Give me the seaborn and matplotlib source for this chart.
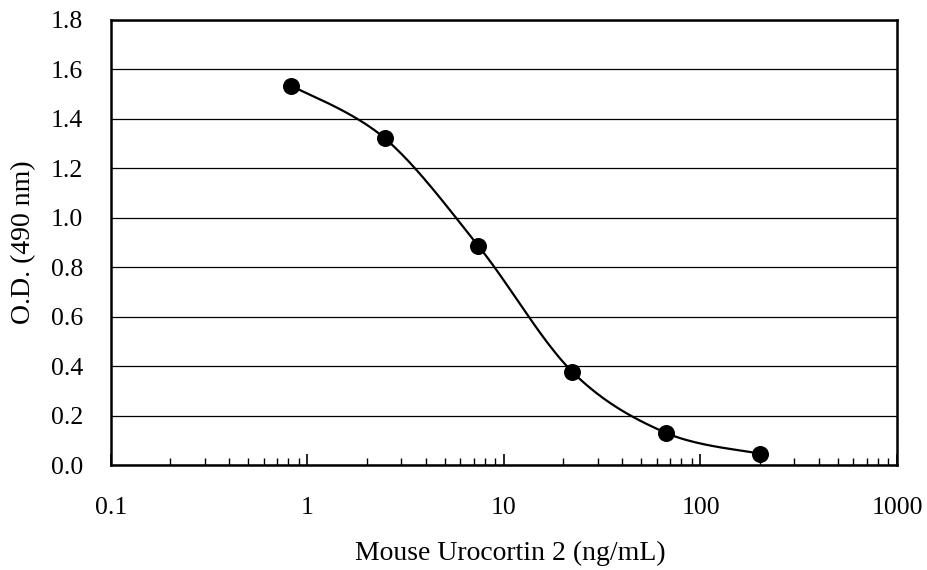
import numpy as np
import pandas as pd
import matplotlib
matplotlib.use("Agg")
import matplotlib.pyplot as plt
import seaborn as sns

concentration = [0.823, 2.47, 7.41, 22.2, 66.7, 200.0]
od_490 = [1.535, 1.322, 0.886, 0.378, 0.130, 0.046]
x_ticks = [0.1, 1, 10, 100, 1000]
x_tick_labels = ["0.1", "1", "10", "100", "1000"]
y_ticks = [0.0, 0.2, 0.4, 0.6, 0.8, 1.0, 1.2, 1.4, 1.6, 1.8]

sns.set_theme(style="white")
plt.rcParams["font.family"] = ["Liberation Serif", "DejaVu Serif"]
plt.rcParams["text.color"] = "black"
plt.rcParams["axes.labelcolor"] = "black"
plt.rcParams["xtick.color"] = "black"
plt.rcParams["ytick.color"] = "black"

FS = 18.5
LFS = 20

fig = plt.figure(figsize=(9.28, 5.70), dpi=100)
ax = fig.add_axes([111/928, 1-465/570, (897-111)/928, (465-20)/570])

ax.set_xscale("log")
ax.set_xlim(0.1, 1000)
ax.set_ylim(0, 1.8)

# Excel-style smoothed line: Bezier through the points in display-like space
lx = np.log10(concentration)
u = (lx - np.log10(0.1)) / 4.0 * 786
v = np.array(od_490) / 1.8 * 445
n = len(u)
cu, cv = [], []
t = np.linspace(0, 1, 40)
for i in range(n - 1):
    p0 = np.array([u[max(i-1, 0)], v[max(i-1, 0)]])
    p1 = np.array([u[i], v[i]])
    p2 = np.array([u[i+1], v[i+1]])
    p3 = np.array([u[min(i+2, n-1)], v[min(i+2, n-1)]])
    c1 = p1 + (p2 - p0) / 6.0
    c2 = p2 - (p3 - p1) / 6.0
    b = ((1-t)**3)[:, None]*p1 + (3*(1-t)**2*t)[:, None]*c1 + (3*(1-t)*t**2)[:, None]*c2 + (t**3)[:, None]*p2
    cu.extend(b[:, 0]); cv.extend(b[:, 1])
curve = pd.DataFrame({
    "x": 10 ** (np.array(cu) / 786 * 4.0 + np.log10(0.1)),
    "y": np.array(cv) / 445 * 1.8,
})
sns.lineplot(data=curve, x="x", y="y", sort=False, estimator=None, color="black", linewidth=1.6, ax=ax)

pts = pd.DataFrame({"x": concentration, "y": od_490})
sns.scatterplot(data=pts, x="x", y="y", color="black", s=150, edgecolor="black", linewidth=0, zorder=5, ax=ax)

ax.set_yticks(y_ticks)
ax.set_yticklabels([f"{v:.1f}" for v in y_ticks])
ax.set_xticks(x_ticks)
ax.set_xticklabels(x_tick_labels)
ax.xaxis.set_minor_locator(matplotlib.ticker.LogLocator(base=10, subs=np.arange(2, 10)))
ax.xaxis.set_minor_formatter(matplotlib.ticker.NullFormatter())

ax.yaxis.grid(True, color="black", linewidth=0.9)
ax.xaxis.grid(False)
ax.set_axisbelow(True)
for s in ax.spines.values():
    s.set_color("black")
    s.set_linewidth(1.8)

ax.tick_params(axis="x", which="major", direction="in", length=8, width=1.2, pad=23, labelsize=FS, bottom=True)
ax.tick_params(axis="x", which="minor", direction="in", length=5, width=1.0, bottom=True)
ax.tick_params(axis="y", which="major", length=0, pad=20, labelsize=FS)

ax.set_xlabel("Mouse Urocortin 2 (ng/mL)", fontsize=LFS)
ax.set_ylabel("O.D. (490 nm)", fontsize=LFS)
ax.xaxis.set_label_coords((510-111)/786, (465-541)/445)
ax.yaxis.set_label_coords((36-111)/786, 0.5)

fig.savefig("out.png", dpi=100)
